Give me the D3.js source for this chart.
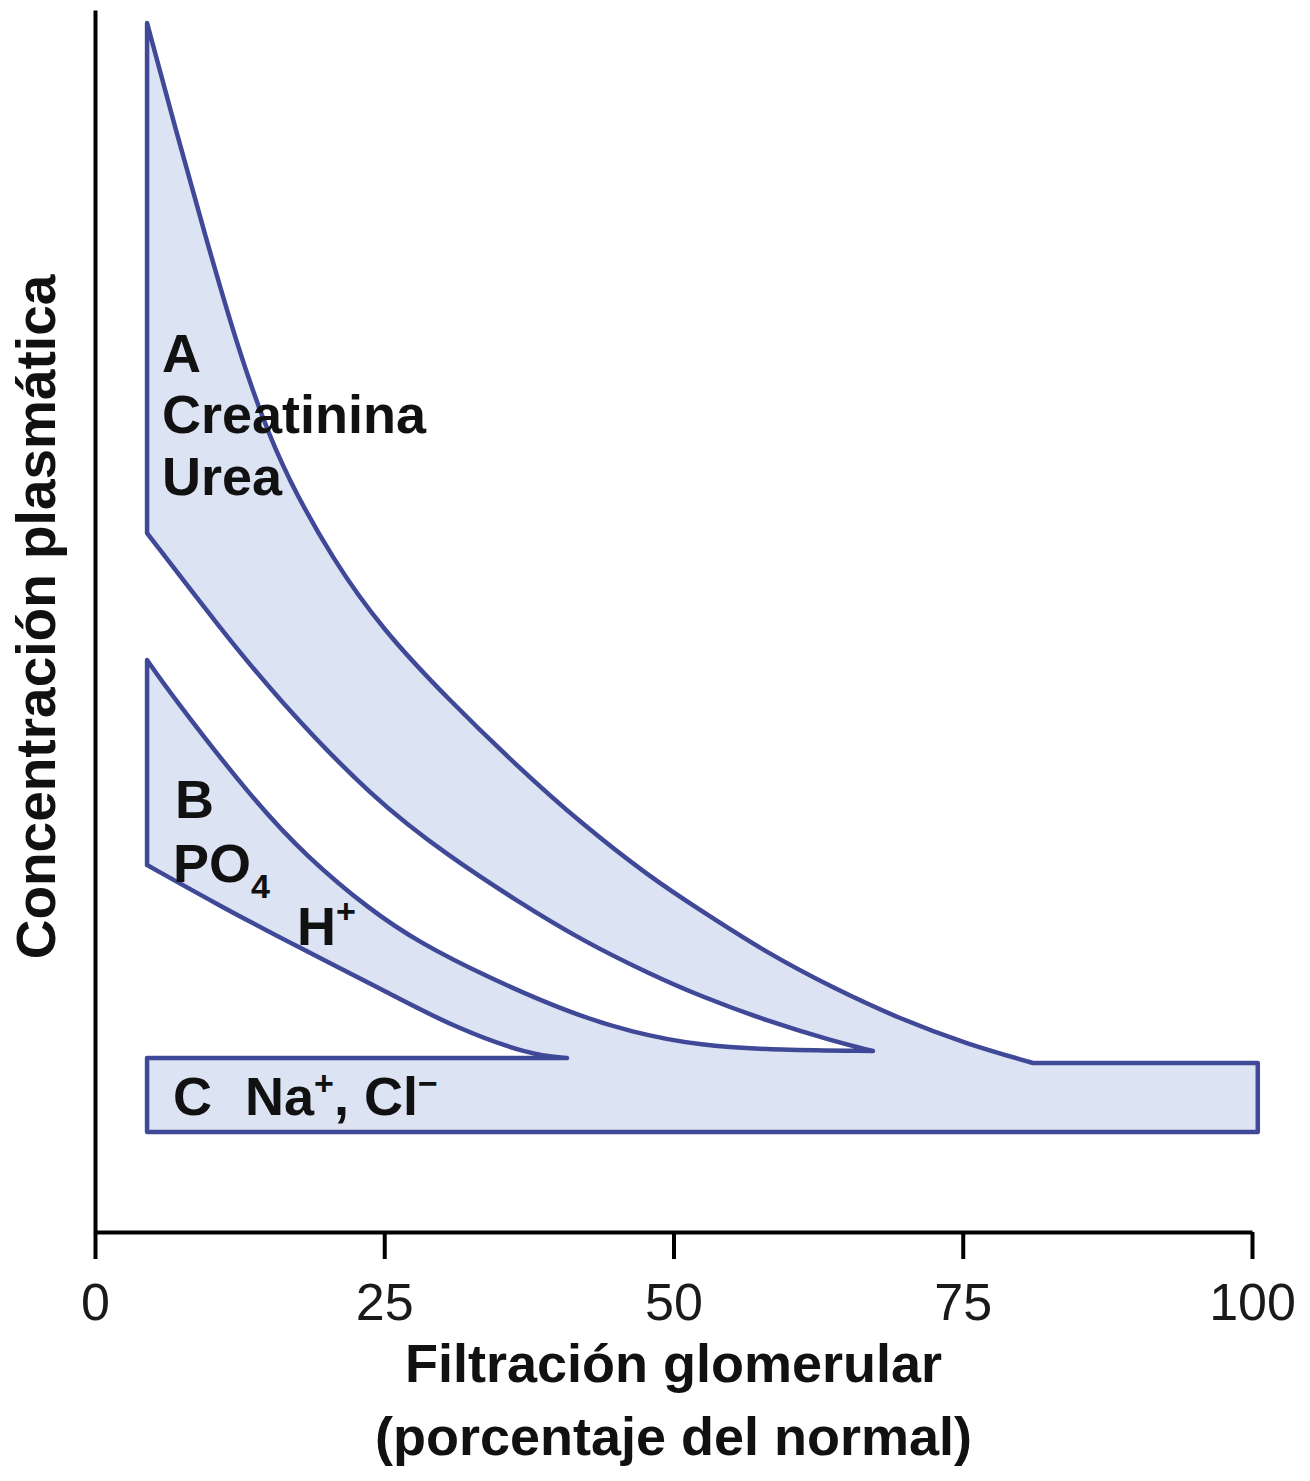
<!DOCTYPE html>
<html><head><meta charset="utf-8">
<script src="https://cdn.jsdelivr.net/npm/d3@7"></script>
<style>html,body{margin:0;padding:0;background:#fff;} svg{display:block;}</style>
</head><body>
<svg id="chart" width="1310" height="1481"></svg>
<script>
// ---- data (x: % of normal GFR, y: relative plasma concentration) ----
const xTicks = [0, 25, 50, 75, 100];
const creatinineUpper = [[4.5,98.94],[6.91,90.43],[9.51,81.59],[12.27,72.59],[14.43,66.69],[16.59,61.78],[20.57,54.99],[24.89,49.26],[30.42,43.70],[36.47,38.13],[42.18,33.31],[47.97,29.05],[52.29,26.35],[58.08,22.83],[63.79,19.97],[69.58,17.43],[75.37,15.38],[81.07,13.83]];
const creatinineLower = [[4.5,57.20],[10.80,49.43],[15.73,43.70],[24.03,35.43],[30.68,30.69],[36.47,27.09],[42.18,23.81],[47.97,21.11],[52.29,19.31],[58.08,17.27],[63.79,15.63],[67.24,14.81]];
const phosphateUpper = [[4.5,46.81],[6.48,44.11],[13.66,35.35],[18.32,30.69],[23.77,26.35],[28.09,23.65],[33.88,20.87],[41.05,17.92],[46.24,16.37],[52.29,15.22],[59.20,14.89],[67.24,14.81]];
const phosphateLower = [[4.5,30.03],[10.80,26.68],[17.72,23.24],[25.24,19.64],[30.94,16.78],[37.60,14.48],[40.80,14.24]];
const sodiumTopLeft = [4.5, 14.24];
const sodiumTopRight = [100.5, 13.83];
const sodiumBottom = 8.18;
const xTitle = ["Filtración glomerular", "(porcentaje del normal)"];
const yTitle = "Concentración plasmática";

// ---- drawing ----
const FONT = "'Liberation Sans', Arial, Helvetica, sans-serif";
const x = d3.scaleLinear().domain([0, 100]).range([95, 1252]);
const y = d3.scaleLinear().domain([0, 100]).range([1232, 10]);
const svg = d3.select("#chart");

const curve = d3.line().x(d => x(d[0])).y(d => y(d[1])).curve(d3.curveBasis);
const straight = d3.line().x(d => x(d[0])).y(d => y(d[1]));
function join(parts) {
  return parts.map((p, i) => i === 0 ? p : p.replace(/^M/, "L")).join("") + "Z";
}
const aUpperEnd = creatinineUpper[creatinineUpper.length - 1];
const bLowerTip = phosphateLower[phosphateLower.length - 1];
const outline = join([
  curve(creatinineUpper),
  straight([aUpperEnd, sodiumTopRight, [sodiumTopRight[0], sodiumBottom],
            [sodiumTopLeft[0], sodiumBottom], sodiumTopLeft, [bLowerTip[0], sodiumTopLeft[1]]]),
  curve(phosphateLower.slice().reverse()),
  straight([phosphateLower[0], phosphateUpper[0]]),
  curve(phosphateUpper),
  curve(creatinineLower.slice().reverse())
]);

svg.append("path")
  .attr("d", outline)
  .attr("fill", "#dce3f2")
  .attr("stroke", "#404898")
  .attr("stroke-width", 4.5)
  .attr("stroke-linejoin", "round");

// axes
const xAxis = d3.axisBottom(x).tickValues(xTicks).tickSize(27).tickSizeOuter(0).tickPadding(24);
const gx = svg.append("g").attr("transform", `translate(0,${y(0)})`).call(xAxis);
gx.select(".domain").attr("stroke", "#000").attr("stroke-width", 4);
gx.selectAll(".tick line").attr("stroke", "#000").attr("stroke-width", 4);
gx.selectAll(".tick text").attr("font-family", FONT).attr("font-size", 52).attr("fill", "#1a1a1a");

const yAxis = d3.axisLeft(y).tickValues([]).tickSizeOuter(0);
const gy = svg.append("g").attr("transform", `translate(${x(0)},0)`).call(yAxis);
gy.select(".domain").attr("stroke", "#000").attr("stroke-width", 4);

// axis titles
const titleX = svg.append("text")
  .attr("font-family", FONT).attr("font-weight", "bold").attr("font-size", 54)
  .attr("text-anchor", "middle").attr("fill", "#111");
titleX.selectAll("tspan").data(xTitle).join("tspan")
  .attr("x", x(50)).attr("y", (d, i) => 1382 + i * 73).text(d => d);

svg.append("text")
  .attr("transform", "translate(55,617) rotate(-90)")
  .attr("font-family", FONT).attr("font-weight", "bold").attr("font-size", 55)
  .attr("text-anchor", "middle").attr("fill", "#111")
  .text(yTitle);

// band labels
const lab = (px, py, size) => svg.append("text")
  .attr("x", px).attr("y", py)
  .attr("font-family", FONT).attr("font-weight", "bold").attr("font-size", size || 54)
  .attr("fill", "#111");

lab(162, 372).text("A");
lab(162, 433).text("Creatinina");
lab(162, 495).text("Urea");

lab(175, 818).text("B");
const po = lab(173, 882);
po.append("tspan").text("PO");
po.append("tspan").attr("font-size", 34).attr("dy", 16).text("4");
const h = lab(297, 945);
h.append("tspan").text("H");
h.append("tspan").attr("font-size", 34).attr("dy", -22).text("+");

lab(173, 1115).text("C");
const na = lab(245, 1115);
na.append("tspan").text("Na");
na.append("tspan").attr("font-size", 34).attr("dy", -20).text("+");
na.append("tspan").attr("dy", 20).text(", Cl");
na.append("tspan").attr("font-size", 34).attr("dy", -20).text("\u2212");
</script>
</body></html>
